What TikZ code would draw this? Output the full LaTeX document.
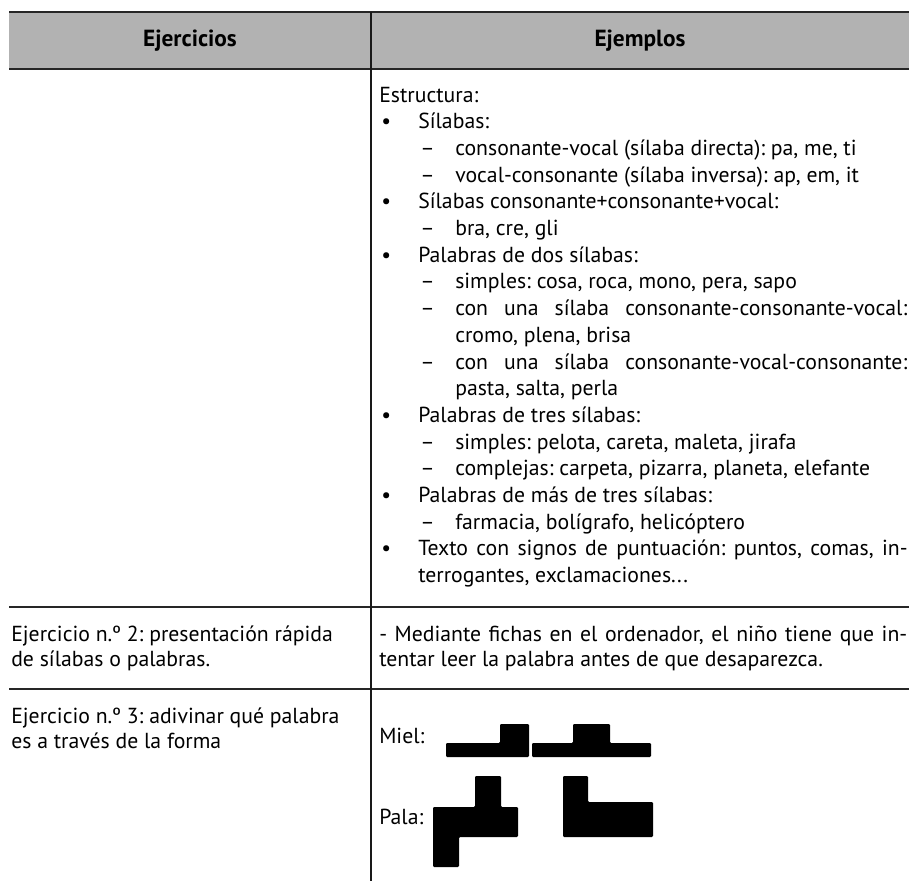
\documentclass[tikz,border=0pt]{standalone}
\usepackage{fontspec}
\setmainfont{PT Sans}
\begin{document}
\frenchspacing
\begin{tikzpicture}[x=0.75pt,y=-0.75pt,
    txt/.style={anchor=base west,inner sep=0pt,font=\fontsize{16.3}{19}\selectfont},
    hdr/.style={inner sep=0pt,font=\fontsize{17.5}{20}\selectfont\bfseries},
    hrule/.style={line width=1.3pt,draw=black!85},
    vrule/.style={line width=0.9pt,draw=black!90},
    blk/.style={fill=black,rounded corners=0.8pt}]
    \useasboundingbox (0,0) rectangle (909,881);

    \fill[black!30] (9,12) rectangle (909,69);
    \draw[hrule] (9,12) -- (909,12);
    \draw[hrule] (9,69) -- (909,69);
    \draw[hrule] (9,607) -- (909,607);
    \draw[hrule] (9,689) -- (909,689);
    \draw[vrule] (371,12) -- (371,881);

    \node[hdr] (ejer) at (190,41) {Ejercicios};
    \node[hdr] (ejem) at (640,41) {Ejemplos};

    % fila 1
    \node[txt] (l0) at (379,102) {Estructura:};
    \node[txt] (b1) at (381,128.7) {•};
    \node[txt] (l1) at (418,128.7) {Sílabas:};
    \node[txt] (d2) at (420,155.4) {–};
    \node[txt] (l2) at (455,155.4) {consonante-vocal (sílaba directa): pa, me, ti};
    \node[txt] (d3) at (420,182.1) {–};
    \node[txt] (l3) at (455,182.1) {vocal-consonante (sílaba inversa): ap, em, it};
    \node[txt] (b4) at (381,208.8) {•};
    \node[txt] (l4) at (418,208.8) {Sílabas consonante+consonante+vocal:};
    \node[txt] (d5) at (420,235.5) {–};
    \node[txt] (l5) at (455,235.5) {bra, cre, gli};
    \node[txt] (b6) at (381,262.2) {•};
    \node[txt] (l6) at (418,262.2) {Palabras de dos sílabas:};
    \node[txt] (d7) at (420,288.9) {–};
    \node[txt] (l7) at (455,288.9) {simples: cosa, roca, mono, pera, sapo};
    \node[txt] (d8) at (420,315.6) {–};
    \node[txt] (l8) at (455,315.6) {\makebox[339pt][s]{con una sílaba consonante-consonante-vocal:}};
    \node[txt] (l9) at (455,342.3) {cromo, plena, brisa};
    \node[txt] (d10) at (420,369) {–};
    \node[txt] (l10) at (455,369) {\makebox[339pt][s]{con una sílaba consonante-vocal-consonante:}};
    \node[txt] (l11) at (455,395.7) {pasta, salta, perla};
    \node[txt] (b12) at (381,422.4) {•};
    \node[txt] (l12) at (418,422.4) {Palabras de tres sílabas:};
    \node[txt] (d13) at (420,449.1) {–};
    \node[txt] (l13) at (455,449.1) {simples: pelota, careta, maleta, jirafa};
    \node[txt] (d14) at (420,475.8) {–};
    \node[txt] (l14) at (455,475.8) {complejas: carpeta, pizarra, planeta, elefante};
    \node[txt] (b15) at (381,502.5) {•};
    \node[txt] (l15) at (418,502.5) {Palabras de más de tres sílabas:};
    \node[txt] (d16) at (420,529.2) {–};
    \node[txt] (l16) at (455,529.2) {farmacia, bolígrafo, helicóptero};
    \node[txt] (b17) at (381,555.9) {•};
    \node[txt] (l17) at (418,555.9) {\makebox[367pt][s]{Texto con signos de puntuación: puntos, comas, in-}};
    \node[txt] (l18) at (418,582.6) {terrogantes, exclamaciones...};

    % fila 2
    \node[txt] (e2a) at (11,641) {Ejercicio n.º 2: presentación rápida};
    \node[txt] (e2b) at (11,666) {de sílabas o palabras.};
    \node[txt] (m2a) at (379,641) {\makebox[396pt][s]{- Mediante fichas en el ordenador, el niño tiene que in-}};
    \node[txt] (m2b) at (379,666) {tentar leer la palabra antes de que desaparezca.};

    % fila 3
    \node[txt] (e3a) at (11,723) {Ejercicio n.º 3: adivinar qué palabra};
    \node[txt] (e3b) at (11,748) {es a través de la forma};
    \node[txt] (miel) at (379,743) {Miel:};
    \node[txt] (pala) at (379,824) {Pala:};

    \fill[blk] (446,743) -- (500,743) -- (500,724) -- (529,724) -- (529,757) -- (446,757) -- cycle;
    \fill[blk] (532,743) -- (573,743) -- (573,724) -- (610,724) -- (610,743) -- (651,743) -- (651,757) -- (532,757) -- cycle;
    \fill[blk] (475,776) -- (501,776) -- (501,807) -- (518,807) -- (518,837) -- (459,837) -- (459,867) -- (433,867) -- (433,807) -- (475,807) -- cycle;
    \fill[blk] (563,776) -- (588,776) -- (588,802) -- (653,802) -- (653,837) -- (563,837) -- cycle;
\end{tikzpicture}
\end{document}
